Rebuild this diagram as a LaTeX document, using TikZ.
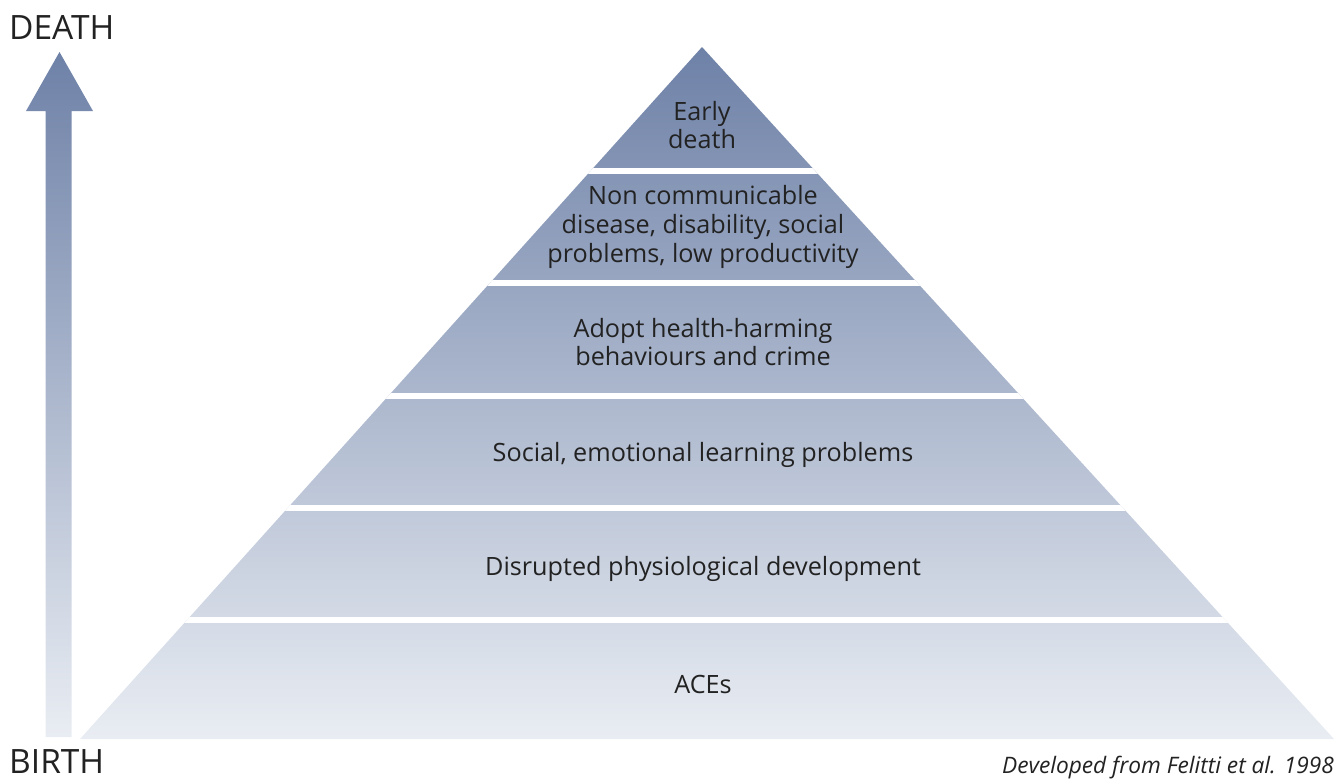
\documentclass[tikz,border=0pt]{standalone}
\usepackage{fontspec}
\setmainfont{Open Sans}
\definecolor{topblue}{HTML}{6E81A7}
\definecolor{botblue}{HTML}{E9EDF3}
\definecolor{txt}{HTML}{222222}
\begin{document}
\begin{tikzpicture}[x=1pt,y=1pt,
  lbl/.style={text=txt,font=\fontsize{25.2}{28.8}\selectfont,align=center,inner sep=0pt},
  gapline/.style={white,line width=6pt},
  side/.style={text=txt,font=\fontsize{33.5}{40}\selectfont,inner sep=0pt,anchor=base west}]
\useasboundingbox (0,0) rectangle (1342,-780);
% arrow
\shade[top color=topblue,bottom color=botblue]
  (45.5,-737) -- (45.5,-111) -- (26,-111) -- (59.5,-52) -- (93,-111) -- (71.5,-111) -- (71.5,-737) -- cycle;
% pyramid
\coordinate (apex) at (702,-47);
\coordinate (bl) at (80,-739);
\coordinate (br) at (1334,-739);
\shade[top color=topblue,bottom color=botblue] (apex) -- (br) -- (bl) -- cycle;
\begin{scope}
\clip (apex) -- (br) -- (bl) -- cycle;
\foreach \yy in {171,283,395.5,508,620}
  \draw[gapline] (0,-\yy) -- (1342,-\yy);
\end{scope}
% labels
\node[lbl] (l1) at (702,-125) {Early\\death};
\node[lbl] (l2) at (703,-227) {Non communicable\\disease, disability, social\\problems, low productivity};
\node[lbl] (l3) at (703,-342) {Adopt health-harming\\behaviours and crime};
\node[lbl] (l4) at (703,-455) {Social, emotional learning problems};
\node[lbl] (l5) at (703,-569) {Disrupted physiological development};
\node[lbl] (l6) at (703,-684) {ACEs};
\node[side] (death) at (9,-39) {DEATH};
\node[side] (birth) at (9,-773) {BIRTH};
\node[text=txt,font=\fontsize{22.7}{26}\itshape,inner sep=0pt,anchor=base east] (src) at (1334,-773) {Developed from Felitti et al. 1998};
\end{tikzpicture}
\end{document}
